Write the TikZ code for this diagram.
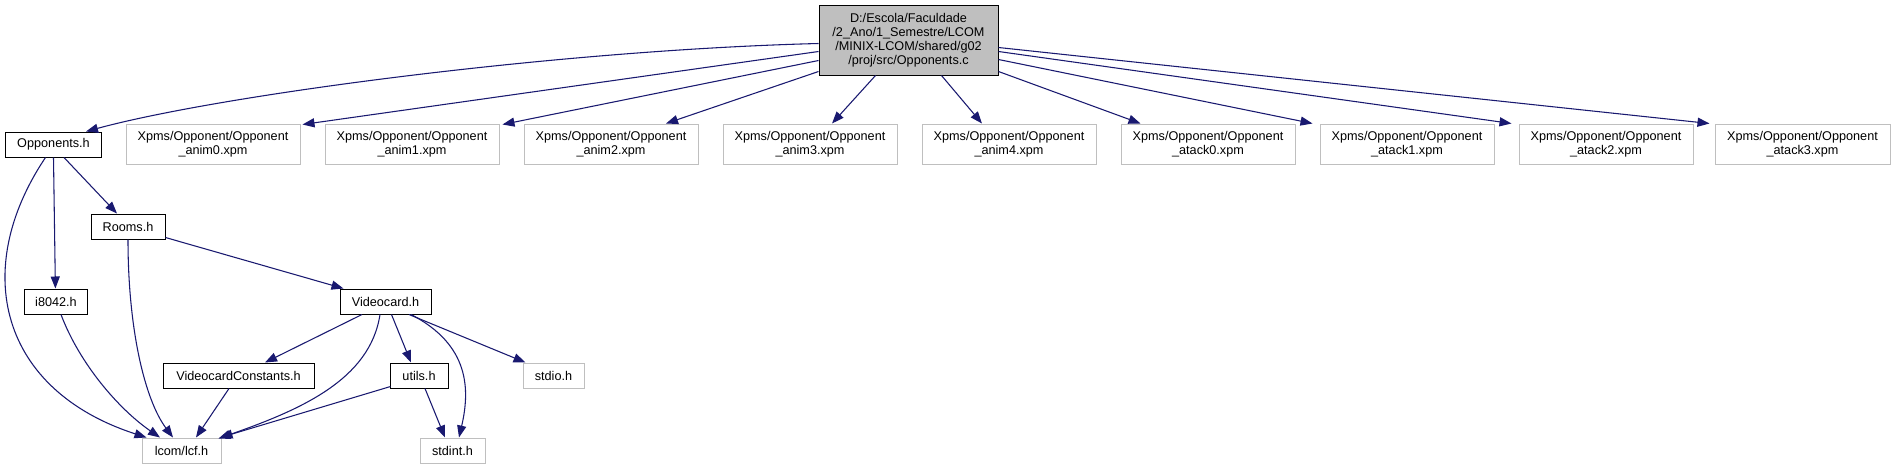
\documentclass[tikz,border=0pt]{standalone}
\usepackage{fontspec}
\setmainfont{Liberation Sans}
\usetikzlibrary{arrows.meta,calc}
\definecolor{edgeblue}{HTML}{191970}
\definecolor{grey75}{HTML}{BFBFBF}
\begin{document}
\begin{tikzpicture}[x=0.75pt,y=-0.75pt,
  every node/.style={font=\fontsize{9.5}{10.6}\selectfont, inner sep=0pt, align=center, line width=0.75pt},
  wh/.style 2 args={minimum width=#1*0.75pt, minimum height=#2*0.75pt},
  docbox/.style={draw=black, fill=white},
  extbox/.style={draw=grey75, fill=white},
  mainbox/.style={draw=black, fill=grey75},
  dep/.style={draw=edgeblue, line width=0.8pt, -{Triangle[length=9pt,width=6.8pt]}}]
\useasboundingbox (0,0) rectangle (1896,469);
\fill[white] (0,0) rectangle (1896,469);
% nodes
\node[mainbox, wh={179}{70}] (src) at (908.5,40) {D:/Escola/Faculdade\\/2\_Ano/1\_Semestre/LCOM\\/MINIX-LCOM/shared/g02\\/proj/src/Opponents.c};
\node[docbox, wh={96}{25}] (oh) at (53.5,144.5) {Opponents.h};
\node[extbox, wh={174}{40}] (a0) at (213,144) {Xpms/Opponent/Opponent\\\_anim0.xpm};
\node[extbox, wh={174}{40}] (a1) at (412,144) {Xpms/Opponent/Opponent\\\_anim1.xpm};
\node[extbox, wh={174}{40}] (a2) at (611,144) {Xpms/Opponent/Opponent\\\_anim2.xpm};
\node[extbox, wh={174}{40}] (a3) at (810,144) {Xpms/Opponent/Opponent\\\_anim3.xpm};
\node[extbox, wh={174}{40}] (a4) at (1009,144) {Xpms/Opponent/Opponent\\\_anim4.xpm};
\node[extbox, wh={174}{40}] (t0) at (1208,144) {Xpms/Opponent/Opponent\\\_atack0.xpm};
\node[extbox, wh={174}{40}] (t1) at (1407,144) {Xpms/Opponent/Opponent\\\_atack1.xpm};
\node[extbox, wh={174}{40}] (t2) at (1606,144) {Xpms/Opponent/Opponent\\\_atack2.xpm};
\node[extbox, wh={175}{40}] (t3) at (1802.5,144) {Xpms/Opponent/Opponent\\\_atack3.xpm};
\node[docbox, wh={74}{25}] (rooms) at (128,226.5) {Rooms.h};
\node[docbox, wh={63}{25}] (i8) at (56,301.5) {i8042.h};
\node[docbox, wh={91}{25}] (vc) at (385.5,301.5) {Videocard.h};
\node[docbox, wh={151}{25}] (vcc) at (238.5,375.5) {VideocardConstants.h};
\node[docbox, wh={58}{25}] (ut) at (419,375.5) {utils.h};
\node[extbox, wh={61}{25}] (sio) at (553.5,375.5) {stdio.h};
\node[extbox, wh={79}{25}] (lcf) at (181.5,450.5) {lcom/lcf.h};
\node[extbox, wh={65}{25}] (sint) at (452.5,450.5) {stdint.h};
% edges from Opponents.c
\draw[dep] ($(src.north west)+(0,39)$) .. controls (560,50) and (220,95) .. ($(oh.north east)+(-16,0)$);
\draw[dep] ($(src.north west)+(0,47)$) -- ($(a0.north east)+(2,1)$);
\draw[dep] ($(src.north west)+(0,56)$) -- ($(a1.north east)+(3,1)$);
\draw[dep] ($(src.north west)+(0,67)$) -- ($(a2.north)+(55,0)$);
\draw[dep] ($(src.south)+(-33,0)$) -- ($(a3.north)+(22,0)$);
\draw[dep] ($(src.south)+(33,0)$) -- ($(a4.north)+(-27,0)$);
\draw[dep] ($(src.north east)+(0,67)$) -- ($(t0.north west)+(20,0)$);
\draw[dep] ($(src.north east)+(0,55)$) -- ($(t1.north west)+(-7,0)$);
\draw[dep] ($(src.north east)+(0,47)$) -- ($(t2.north west)+(-7,0)$);
\draw[dep] ($(src.north east)+(0,43)$) -- ($(t3.north west)+(-5,0)$);
% lower edges
\draw[dep] ($(oh.south)+(-8,0)$) .. controls (-30,270) and (0,390) .. ($(lcf.north west)+(5,0)$);
\draw[dep] (oh.south) -- ($(i8.north)+(-0.6,0)$);
\draw[dep] ($(oh.south)+(10.5,0)$) -- ($(rooms.north)+(-11,0)$);
\draw[dep] (rooms.south) .. controls (128,330) and (145,400) .. ($(lcf.north)+(-8.5,0)$);
\draw[dep] ($(rooms.south east)+(0,-2)$) -- ($(vc.north west)+(4,0)$);
\draw[dep] ($(i8.south)+(5,0)$) .. controls (80,365) and (120,410) .. ($(lcf.north)+(-21.5,0)$);
\draw[dep] ($(vc.south)+(-23.5,0)$) -- ($(vcc.north)+(26.5,0)$);
\draw[dep] ($(vc.south)+(-5.5,0)$) .. controls (370,380) and (300,410) .. ($(lcf.north east)+(-3,1)$);
\draw[dep] ($(vc.south)+(6,0)$) -- ($(ut.north)+(-8,0)$);
\draw[dep] ($(vc.south)+(25.5,0)$) .. controls (470,345) and (470,390) .. ($(sint.north)+(6.5,0)$);
\draw[dep] ($(vc.south)+(23.5,0)$) -- ($(sio.north west)+(3,0)$);
\draw[dep] ($(ut.south west)+(1,-2)$) -- ($(lcf.north east)+(-1,0)$);
\draw[dep] ($(ut.south)+(6,0)$) -- ($(sint.north)+(-7.5,0)$);
\draw[dep] ($(vcc.south)+(-9.5,0)$) -- ($(lcf.north)+(14.5,0)$);
\end{tikzpicture}
\end{document}
